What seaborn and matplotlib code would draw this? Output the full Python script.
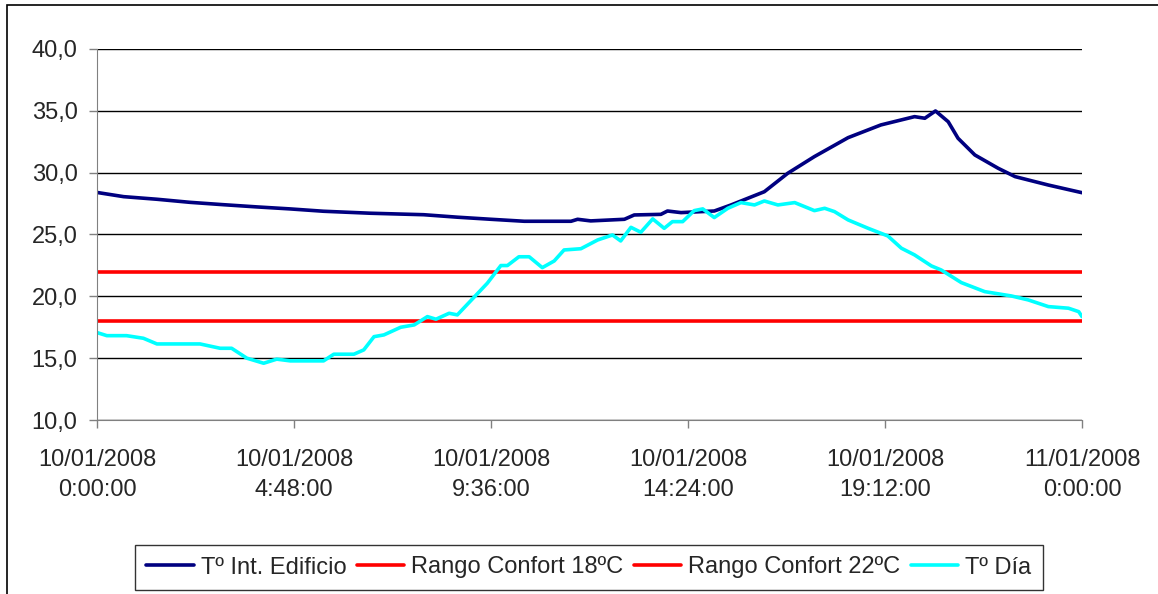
import matplotlib
matplotlib.use("Agg")
import matplotlib.pyplot as plt
import matplotlib.ticker as mticker
from matplotlib.patches import Rectangle
import pandas as pd
import seaborn as sns

# Tº interior del edificio (horas desde 10/01/2008 0:00)
horas_int = [0.0, 0.65, 1.46, 2.27, 3.08, 3.9, 4.7, 5.52, 6.66, 7.96, 8.78, 9.6,
             10.41, 11.55, 11.71, 12.03, 12.85, 13.09, 13.74, 13.9, 14.23, 15.04,
             15.45, 16.26, 16.83, 17.48, 18.3, 19.1, 19.92, 20.17, 20.43, 20.74,
             20.98, 21.39, 21.96, 22.37, 23.18, 24.0]
temp_int = [28.4, 28.06, 27.85, 27.6, 27.41, 27.23, 27.07, 26.88, 26.72, 26.6, 26.4, 26.23,
            26.07, 26.07, 26.23, 26.1, 26.23, 26.58, 26.63, 26.9, 26.77, 26.9,
            27.39, 28.46, 29.95, 31.3, 32.83, 33.86, 34.53, 34.4, 34.99, 34.12,
            32.78, 31.43, 30.35, 29.68, 29.0, 28.38]

# Tº exterior del día
horas_dia = [0.0, 0.24, 0.72, 1.13, 1.46, 2.51, 3.0, 3.28, 3.65, 4.06, 4.38, 4.71,
             5.52, 5.77, 6.26, 6.5, 6.75, 6.99, 7.4, 7.73, 8.05, 8.26, 8.58, 8.78,
             9.51, 9.84, 10.0, 10.28, 10.53, 10.85, 11.14, 11.38, 11.79, 12.2,
             12.56, 12.76, 13.01, 13.25, 13.54, 13.82, 14.02, 14.27, 14.55, 14.76,
             15.04, 15.37, 15.69, 16.02, 16.26, 16.59, 17.0, 17.48, 17.73, 17.97,
             18.3, 18.79, 19.27, 19.6, 19.92, 20.33, 20.57, 21.06, 21.63, 22.28,
             22.69, 23.18, 23.67, 23.92, 24.0]
temp_dia = [17.07, 16.82, 16.82, 16.61, 16.15, 16.15, 15.8, 15.8, 15.0, 14.59, 14.92, 14.78,
            14.78, 15.32, 15.32, 15.67, 16.74, 16.88, 17.5, 17.69, 18.36, 18.15, 18.63, 18.5,
            21.06, 22.49, 22.49, 23.2, 23.2, 22.32, 22.86, 23.75, 23.85, 24.56,
            24.96, 24.48, 25.58, 25.18, 26.26, 25.5, 26.04, 26.04, 26.93, 27.07,
            26.37, 27.12, 27.58, 27.39, 27.71, 27.39, 27.58, 26.93, 27.12, 26.85,
            26.18, 25.5, 24.88, 23.89, 23.35, 22.46, 22.13, 21.11, 20.38, 20.03,
            19.71, 19.17, 19.04, 18.76, 18.36]

# Rango de confort
horas_rango = [0.0, 24.0]
confort_min = [18.0, 18.0]
confort_max = [22.0, 22.0]

x_ticks = [0, 4.8, 9.6, 14.4, 19.2, 24]
x_labels = ["10/01/2008\n0:00:00", "10/01/2008\n4:48:00", "10/01/2008\n9:36:00",
            "10/01/2008\n14:24:00", "10/01/2008\n19:12:00", "11/01/2008\n0:00:00"]
y_ticks = [10, 15, 20, 25, 30, 35, 40]

sns.set_style("white")
plt.rcParams["font.family"] = ["Liberation Sans", "DejaVu Sans"]

fig = plt.figure(figsize=(11.58, 5.94), dpi=100)
ax = fig.add_axes([97 / 1158, 1 - 420 / 594, 985 / 1158, 371 / 594])

lw = 2.6
sns.lineplot(x=horas_int, y=temp_int, color="#000080", lw=lw, ax=ax,
             label="Tº Int. Edificio")
sns.lineplot(x=horas_rango, y=confort_min, color="#ff0000", lw=lw, ax=ax,
             label="Rango Confort 18ºC")
sns.lineplot(x=horas_rango, y=confort_max, color="#ff0000", lw=lw, ax=ax,
             label="Rango Confort 22ºC")
sns.lineplot(x=horas_dia, y=temp_dia, color="#00ffff", lw=lw, ax=ax,
             label="Tº Día")

ax.set_xlim(0, 24)
ax.set_ylim(10, 40)
ax.set_xticks(x_ticks)
ax.set_xticklabels(x_labels, linespacing=1.45)
ax.set_yticks(y_ticks)
ax.yaxis.set_major_formatter(mticker.FuncFormatter(lambda v, p: f"{v:.1f}".replace(".", ",")))
ax.set_xlabel("")
ax.set_ylabel("")

ax.yaxis.grid(True, color="black", lw=1)
ax.xaxis.grid(False)
ax.set_axisbelow(True)
for s in ["top", "right"]:
    ax.spines[s].set_visible(False)
ax.spines["left"].set_color("#808080")
ax.spines["bottom"].set_color("#808080")
ax.tick_params(axis="both", direction="out", length=6, width=1, color="#808080",
               labelsize=17, left=True, bottom=True)
ax.tick_params(axis="y", pad=8)
ax.tick_params(axis="x", pad=15)

ax.get_legend().remove()
handles, labels = ax.get_legend_handles_labels()
leg = fig.legend(handles, labels, loc="center", bbox_to_anchor=(589 / 1158, 1 - 567.5 / 594),
                 ncol=4, fontsize=17, frameon=True, fancybox=False, edgecolor="black",
                 handlelength=2.0, handletextpad=0.3, columnspacing=0.45, borderpad=0.5,
                 borderaxespad=0)
leg.get_frame().set_linewidth(1)

# borde exterior del gráfico
fig.patches.append(Rectangle((7 / 1158, -0.1), 1.2, 1 - 5 / 594 + 0.1, transform=fig.transFigure,
                             fill=False, edgecolor="black", lw=1.2))

fig.savefig("out.png", dpi=100)
